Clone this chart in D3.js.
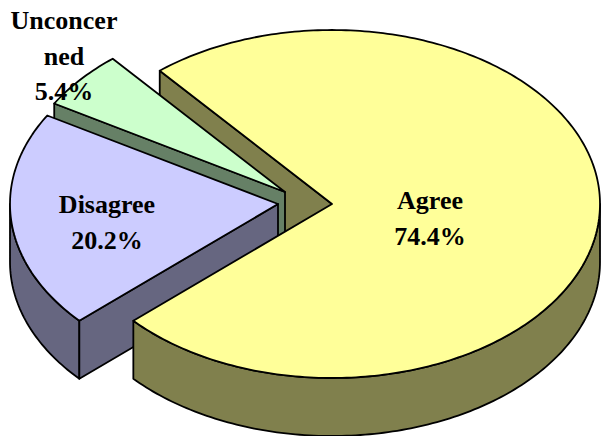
<!DOCTYPE html>
<html>
<head>
<meta charset="utf-8">
<script src="https://cdn.jsdelivr.net/npm/d3@7"></script>
<style>
html,body{margin:0;padding:0;background:#fff}
svg{display:block}
text{font-family:"Liberation Serif","Times New Roman",serif;font-weight:bold;font-size:26px;fill:#000;text-anchor:middle}
</style>
</head>
<body>
<svg id="c" width="602" height="436"></svg>
<script>
const categories = ["Agree", "Disagree", "Unconcerned"];
const shares = [74.4, 20.2, 5.4];
const valueLabels = ["74.4%", "20.2%", "5.4%"];
const labelLines = [["Agree"], ["Disagree"], ["Unconcer", "ned"]];
const topColours = ["#FFFF99", "#CCCCFF", "#CCFFCC"];
const wallColours = ["#80804D", "#666680", "#668066"];

// layout
const rx = 268, ry = 174, depth = 58;
const tips = [[332, 204], [278, 204], [285, 192]];
const labelAnchors = [[430, 209], [107, 213], [64, 29]];
const lineGap = 35.5;
const startDeg = -40;

const svg = d3.select("#c");
const pie = d3.pie().sort(null).startAngle(startDeg * Math.PI / 180)
  .endAngle((startDeg + 360) * Math.PI / 180);
const arcs = pie(shares);

const rad = Math.PI / 180;
const sx = d3.scaleLinear().domain([-1, 1]).range([-rx, rx]);
const sy = d3.scaleLinear().domain([-1, 1]).range([-ry, ry]);
const line = d3.line().x(d => d[0]).y(d => d[1]);

const rim = (i, a, dy = 0) => [tips[i][0] + sx(Math.sin(a)), tips[i][1] + sy(-Math.cos(a)) + dy];
const samples = (a0, a1) => {
  const n = Math.max(2, Math.ceil((a1 - a0) / rad));
  return d3.range(n + 1).map(k => a0 + (a1 - a0) * k / n);
};
const tipAt = (i, dy = 0) => [tips[i][0], tips[i][1] + dy];

function draw(points, fill) {
  svg.append("path")
    .attr("d", line(points) + "Z")
    .attr("fill", fill)
    .attr("stroke", "#000")
    .attr("stroke-width", 1.8)
    .attr("stroke-linejoin", "round");
}
const topFace = i => draw([tipAt(i), ...samples(arcs[i].startAngle, arcs[i].endAngle).map(a => rim(i, a))], topColours[i]);
// cut face along one radius
const cutWall = (i, a, d = depth) => draw([tipAt(i), rim(i, a), rim(i, a, d), tipAt(i, d)], wallColours[i]);
// outer wall between two angles
const outerWall = (i, a0, a1) => {
  const s = samples(a0, a1);
  draw([...s.map(a => rim(i, a)), ...s.slice().reverse().map(a => rim(i, a, depth))], wallColours[i]);
};

const front0 = 90 * rad, front1 = 270 * rad;

// back to front; the yellow cut face runs a little deeper so it meets the top face behind the gap
cutWall(0, arcs[0].startAngle, depth + 10);
cutWall(2, arcs[2].startAngle);
topFace(2);
outerWall(1, arcs[1].startAngle, front1);
cutWall(1, arcs[1].startAngle);
topFace(1);
outerWall(0, front0, arcs[0].endAngle);
topFace(0);

// labels
categories.forEach((c, i) => {
  const lines = [...labelLines[i], valueLabels[i]];
  lines.forEach((t, k) => {
    svg.append("text")
      .attr("x", labelAnchors[i][0])
      .attr("y", labelAnchors[i][1] + k * lineGap)
      .text(t);
  });
});
</script>
</body>
</html>
